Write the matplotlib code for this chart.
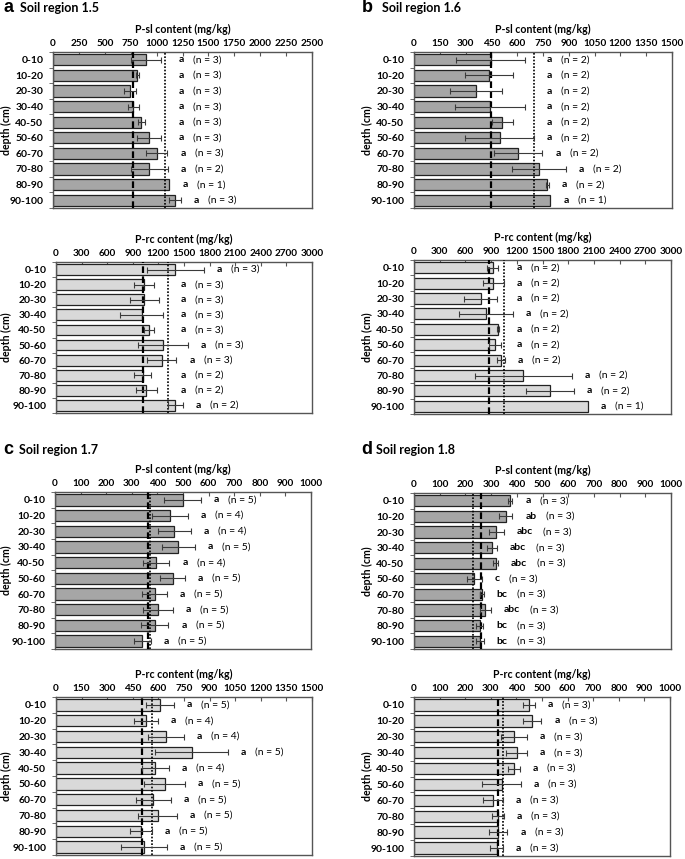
import numpy as np
import matplotlib.pyplot as plt

plt.rcParams['font.family'] = ['Lato', 'DejaVu Sans']

depths = ['0-10', '10-20', '20-30', '30-40', '40-50',
          '50-60', '60-70', '70-80', '80-90', '90-100']

# Soil region 1.5
psl_15 = [894, 813, 745, 777, 852, 926, 1000, 929, 1123, 1177]
psl_15_sd = [145, 15, 55, 55, 35, 115, 105, 180, 0, 55]
psl_15_n = [3, 3, 3, 3, 3, 3, 3, 2, 1, 3]
prc_15 = [1400, 1034, 1034, 1003, 1088, 1256, 1237, 1014, 1057, 1400]
prc_15_sd = [330, 120, 170, 250, 60, 290, 175, 95, 125, 90]
prc_15_n = [3, 3, 3, 3, 3, 3, 3, 2, 2, 2]

# Soil region 1.6
psl_16 = [447, 435, 360, 441, 513, 499, 606, 726, 774, 793]
psl_16_sd = [200, 140, 150, 205, 60, 200, 140, 155, 8, 0]
psl_16_n = [2, 2, 2, 2, 2, 2, 2, 2, 2, 1]
prc_16 = [918, 926, 778, 844, 984, 949, 1012, 1276, 1591, 2027]
prc_16_sd = [65, 125, 190, 315, 10, 72, 47, 565, 278, 0]
prc_16_n = [2, 2, 2, 2, 2, 2, 2, 2, 2, 1]

# Soil region 1.7
psl_17 = [499, 450, 466, 482, 396, 460, 389, 401, 389, 341]
psl_17_sd = [72, 70, 64, 64, 51, 49, 50, 58, 54, 34]
psl_17_n = [5, 4, 4, 5, 4, 5, 5, 5, 5, 5]
prc_17 = [611, 525, 644, 794, 583, 636, 570, 595, 497, 515]
prc_17_sd = [81, 70, 104, 216, 80, 120, 103, 112, 65, 133]
prc_17_n = [5, 4, 4, 5, 4, 5, 5, 5, 5, 5]

# Soil region 1.8
psl_18 = [375, 357, 321, 303, 318, 235, 264, 277, 255, 257]
psl_18_sd = [8, 26, 30, 20, 10, 30, 7, 21, 15, 14]
psl_18_n = [3, 3, 3, 3, 3, 3, 3, 3, 3, 3]
psl_18_let = ['a', 'ab', 'abc', 'abc', 'abc', 'c', 'bc', 'abc', 'bc', 'bc']
prc_18 = [449, 462, 391, 401, 391, 342, 310, 327, 329, 323]
prc_18_sd = [23, 36, 50, 41, 23, 75, 39, 24, 36, 25]
prc_18_n = [3, 3, 3, 3, 3, 3, 3, 3, 3, 3]

# reference lines (dashed, dotted)
ref_15 = [(768, 1084), (1022, 1315)]
ref_16 = [(447, 697), (879, 1047)]
ref_17 = [(362, 372), (501, 560)]
ref_18 = [(262, 231), (327, 349)]

W, H = 685, 859
fig = plt.figure(figsize=(W / 100, H / 100), dpi=100)
FS = 7.2


def add_ax(l, t, r, b, ylab_x):
    ax = fig.add_axes([l / W, 1 - b / H, (r - l) / W, (b - t) / H])
    ax.set_ylabel('depth (cm)', fontsize=7.6, fontweight='bold')
    ax.yaxis.set_label_coords((ylab_x - l) / (r - l), 0.5)
    return ax


def panel(ax, vals, sd, ns, letters, refs, xmax, step, color, label):
    y = np.arange(len(depths))
    ax.barh(y, vals, height=0.72, color=color, edgecolor='#222222', linewidth=0.9, zorder=2)
    sd = np.array(sd)
    vals = np.array(vals)
    mask = sd > 0
    ax.errorbar(vals[mask], y[mask], xerr=sd[mask], fmt='none', ecolor='#3a3a3a',
                elinewidth=0.8, capsize=2, capthick=0.8, zorder=4)
    ax.axvline(refs[0], color='black', ls=(0, (3, 1.5)), lw=1.6, zorder=3)
    ax.axvline(refs[1], color='black', ls=(0, (1, 1)), lw=1.2, zorder=3)
    ax.set_xlim(0, xmax)
    ax.set_ylim(len(depths) - 0.5, -0.5)
    ax.set_xticks(np.arange(0, xmax + 1, step))
    ax.xaxis.tick_top()
    ax.xaxis.set_label_position('top')
    ax.tick_params(axis='x', direction='in', length=3, pad=3, labelsize=FS, color='#555555')
    for t in ax.get_xticklabels():
        t.set_fontweight('bold')
    ax.set_xlabel(label, fontsize=7.6, fontweight='bold', labelpad=4)
    ax.set_yticks(y)
    ax.set_yticklabels(depths, fontsize=FS + 0.3, fontweight='bold')
    ax.tick_params(axis='y', which='major', length=0, pad=7)
    ax.set_yticks(np.arange(len(depths) + 1) - 0.5, minor=True)
    ax.tick_params(axis='y', which='minor', direction='out', length=3, color='#555555')
    for s in ax.spines.values():
        s.set_color('#555555')
        s.set_linewidth(1.0)
    off = 0.05 * xmax
    for i in range(len(depths)):
        xl = max(vals[i] + sd[i], max(refs)) + off
        ax.text(xl, i, letters[i], ha='left', va='center', fontsize=FS + 0.3, fontweight='bold')
        ax.annotate('(n = %d)' % ns[i], (xl, i), xytext=(6 + 4.3 * len(letters[i]), 0),
                    textcoords='offset points', ha='left', va='center', fontsize=FS + 0.3)


dark = '#a6a6a6'
light = '#d9d9d9'
label_sl = 'P-sl content (mg/kg)'
label_rc = 'P-rc content (mg/kg)'

ax = add_ax(53, 52, 312, 208, 12)
panel(ax, psl_15, psl_15_sd, psl_15_n, ['a'] * 10, ref_15[0], 2500, 250, dark, label_sl)
ax = add_ax(56, 262, 312, 413, 12)
panel(ax, prc_15, prc_15_sd, prc_15_n, ['a'] * 10, ref_15[1], 3000, 300, light, label_rc)

ax = add_ax(414, 52, 672, 208, 373)
panel(ax, psl_16, psl_16_sd, psl_16_n, ['a'] * 10, ref_16[0], 1500, 150, dark, label_sl)
ax = add_ax(414, 260, 671, 414, 373)
panel(ax, prc_16, prc_16_sd, prc_16_n, ['a'] * 10, ref_16[1], 3000, 300, light, label_rc)

ax = add_ax(55, 492, 311, 649, 12)
panel(ax, psl_17, psl_17_sd, psl_17_n, ['a'] * 10, ref_17[0], 1000, 100, dark, label_sl)
ax = add_ax(56, 697, 312, 855, 12)
panel(ax, prc_17, prc_17_sd, prc_17_n, ['a'] * 10, ref_17[1], 1500, 150, light, label_rc)

ax = add_ax(414, 493, 671, 649, 373)
panel(ax, psl_18, psl_18_sd, psl_18_n, psl_18_let, ref_18[0], 1000, 100, dark, label_sl)
ax = add_ax(414, 697, 670, 856, 373)
panel(ax, prc_18, prc_18_sd, prc_18_n, ['a'] * 10, ref_18[1], 1000, 100, light, label_rc)

# panel headers
heads = [('a', 3, 8, 'Soil region 1.5', 20), ('b', 362, 8, 'Soil region 1.6', 382),
         ('c', 3, 450, 'Soil region 1.7', 19), ('d', 361, 450, 'Soil region 1.8', 376)]
for letter, lx, ly, title, tx in heads:
    fig.text(lx / W, 1 - ly / H, letter, fontsize=13, fontweight='bold',
             family='Liberation Sans', ha='left', va='center')
    fig.text(tx / W, 1 - ly / H, title, fontsize=9, fontweight='bold', ha='left', va='center')

fig.savefig('out.png', dpi=100)
